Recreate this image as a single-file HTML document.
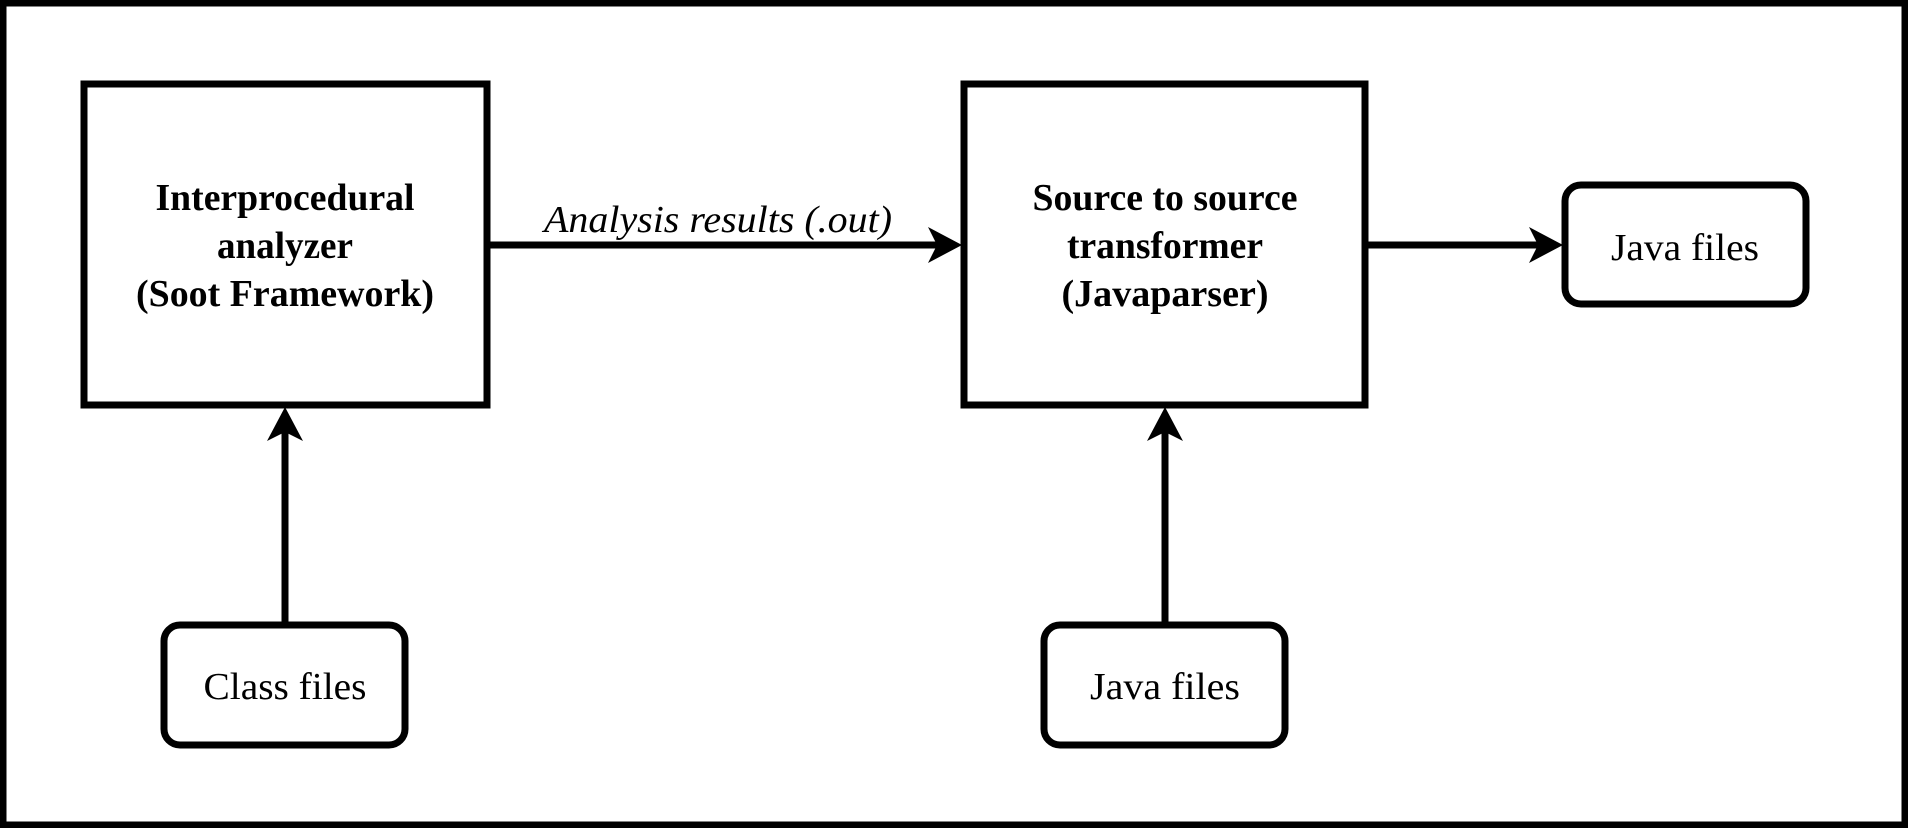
<!DOCTYPE html>
<html><head><meta charset="utf-8"><style>
html,body{margin:0;padding:0;background:#fff;}
svg{display:block;}
</style></head><body>
<svg width="1908" height="828" viewBox="0 0 1908 828" xmlns="http://www.w3.org/2000/svg">
<rect x="3" y="3" width="1902" height="822" fill="#fff" stroke="#000" stroke-width="7"/>
<g fill="none" stroke="#000" stroke-width="7">
<rect x="84" y="84" width="403" height="321"/>
<rect x="964" y="84" width="401" height="321"/>
<rect x="164" y="625" width="241" height="120" rx="16"/>
<rect x="1044" y="625" width="241" height="120" rx="16"/>
<rect x="1565" y="185" width="241" height="119" rx="16"/>
<line x1="487" y1="245" x2="940" y2="245"/>
<line x1="1365" y1="245" x2="1542" y2="245"/>
<line x1="285" y1="625" x2="285" y2="428"/>
<line x1="1165" y1="625" x2="1165" y2="428"/>
</g>
<g fill="#000">
<path d="M962 245 L928 227 L937 245 L928 263 Z"/>
<path d="M1563 245 L1529 227 L1538 245 L1529 263 Z"/>
<path d="M285 407 L267 441 L285 432 L303 441 Z"/>
<path d="M1165 407 L1147 441 L1165 432 L1183 441 Z"/>
</g>
<g font-family="Liberation Serif, serif" text-anchor="middle" fill="#000">
<g font-weight="bold" font-size="38" lengthAdjust="spacingAndGlyphs">
<text x="285" y="210" textLength="259" lengthAdjust="spacingAndGlyphs">Interprocedural</text>
<text x="285" y="258" textLength="136" lengthAdjust="spacingAndGlyphs">analyzer</text>
<text x="285" y="306" textLength="298" lengthAdjust="spacingAndGlyphs">(Soot Framework)</text>
<text x="1165" y="210" textLength="265" lengthAdjust="spacingAndGlyphs">Source to source</text>
<text x="1165" y="258" textLength="196" lengthAdjust="spacingAndGlyphs">transformer</text>
<text x="1165" y="306" textLength="207" lengthAdjust="spacingAndGlyphs">(Javaparser)</text>
</g>
<text x="718" y="232" font-style="italic" font-size="38" textLength="348" lengthAdjust="spacingAndGlyphs">Analysis results (.out)</text>
<g font-size="38">
<text x="285" y="699" textLength="163" lengthAdjust="spacingAndGlyphs">Class files</text>
<text x="1165" y="699" textLength="150" lengthAdjust="spacingAndGlyphs">Java files</text>
<text x="1685" y="260" textLength="148" lengthAdjust="spacingAndGlyphs">Java files</text>
</g>
</g>
</svg>
</body></html>
